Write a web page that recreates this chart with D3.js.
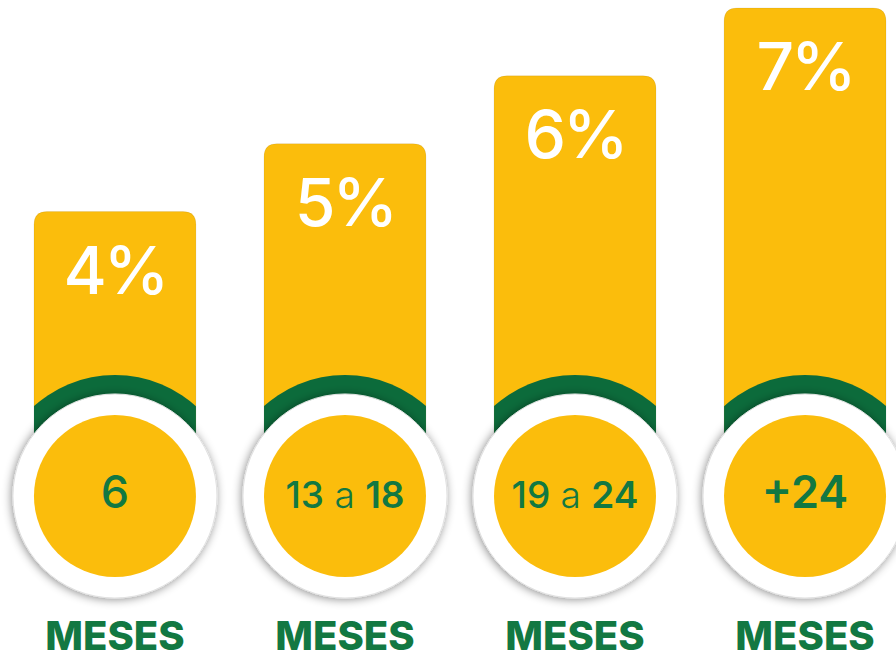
<!DOCTYPE html>
<html lang="es">
	<head>
		<meta charset="utf-8">
		<title>Porcentaje por meses</title>
		<script src="https://d3js.org/d3.v7.min.js"></script>
		<style type="text/css">
			body { margin: 0; background: #fff; }
			svg { display: block; }
		</style>
	</head>
	<body>
<div id="chart"></div>
		<script type="text/javascript">
// data
var categories = ["6", "13 a 18", "19 a 24", "+24"];
var values = [4, 5, 6, 7];
var unitLabels = ["MESES", "MESES", "MESES", "MESES"];
// circle label split into pieces (text, weight)
var labelParts = [
  [["6", 500]],
  [["13", 500], [" a ", 300], ["18", 600]],
  [["19", 500], [" a ", 300], ["24", 600]],
  [["+24", 600]]
];

//Width and height
var w = 896;
var h = 660;
var baseY = 496;   // centre line of the circles

var yellow = "#FBBD0C";
var green = "#0C6B3B";
var textGreen = "#127842";

//Create scale functions
var xScale = d3.scaleBand()
  .domain(categories)
  .range([34, 886])
  .paddingInner(0.296)
  .paddingOuter(0);

var yScale = d3.scaleLinear()
  .domain([0, 7])
  .range([483, 8]);

//Create SVG element
var svg = d3.select("div#chart")
  .append("svg")
  .attr("width", w)
  .attr("height", h);

var defs = svg.append("defs");

var shadow = defs.append("filter")
  .attr("id", "shadow")
  .attr("x", "-30%").attr("y", "-30%")
  .attr("width", "160%").attr("height", "160%");
shadow.append("feDropShadow")
  .attr("dx", -1).attr("dy", 1)
  .attr("stdDeviation", 5)
  .attr("flood-color", "#000")
  .attr("flood-opacity", 0.45);

var bw = xScale.bandwidth();
var rad = 13;

// bar path with rounded top corners
function barPath(d, i) {
  var x0 = xScale(categories[i]), x1 = x0 + bw, y0 = yScale(d);
  return "M" + x0 + "," + baseY +
    "V" + (y0 + rad) +
    "Q" + x0 + "," + y0 + " " + (x0 + rad) + "," + y0 +
    "H" + (x1 - rad) +
    "Q" + x1 + "," + y0 + " " + x1 + "," + (y0 + rad) +
    "V" + baseY + "Z";
}

defs.selectAll("clipPath")
  .data(values)
  .enter()
  .append("clipPath")
  .attr("id", (d, i) => "clip" + i)
  .append("path")
  .attr("d", barPath);

var groups = svg.selectAll("g.bar")
  .data(values)
  .enter()
  .append("g")
  .attr("class", "bar");

groups.append("path")
  .attr("d", barPath)
  .attr("fill", yellow)
  .attr("stroke", "rgba(0,0,0,0.07)")
  .attr("stroke-width", 1);

// percent labels
groups.append("text")
  .attr("x", (d, i) => xScale(categories[i]) + bw / 2)
  .attr("y", d => yScale(d) + 82)
  .attr("text-anchor", "middle")
  .attr("font-family", "Inter, sans-serif")
  .attr("font-size", 66)
  .attr("font-weight", 500)
  .attr("letter-spacing", -3)
  .attr("fill", "#fff")
  .text(d => d + "%");

// green ring, clipped to the bar
groups.append("circle")
  .attr("clip-path", (d, i) => "url(#clip" + i + ")")
  .attr("cx", (d, i) => xScale(categories[i]) + bw / 2)
  .attr("cy", baseY)
  .attr("r", 121)
  .attr("fill", green);

// white outer circle
groups.append("circle")
  .attr("cx", (d, i) => xScale(categories[i]) + bw / 2)
  .attr("cy", baseY)
  .attr("r", 102)
  .attr("fill", "#fff")
  .attr("stroke", "#e2e2e2")
  .attr("stroke-width", 1)
  .attr("filter", "url(#shadow)");

// inner yellow circle
groups.append("circle")
  .attr("cx", (d, i) => xScale(categories[i]) + bw / 2)
  .attr("cy", baseY)
  .attr("r", 81)
  .attr("fill", yellow);

// circle labels
groups.append("text")
  .attr("x", (d, i) => xScale(categories[i]) + bw / 2)
  .attr("y", baseY + 12)
  .attr("text-anchor", "middle")
  .attr("font-family", "Inter, sans-serif")
  .attr("font-size", (d, i) => categories[i].length > 3 ? 37 : 45)
  .attr("fill", textGreen)
  .selectAll("tspan")
  .data((d, i) => labelParts[i])
  .enter()
  .append("tspan")
  .attr("font-weight", p => p[1])
  .text(p => p[0]);

// MESES
groups.append("text")
  .attr("x", (d, i) => xScale(categories[i]) + bw / 2)
  .attr("y", 650)
  .attr("text-anchor", "middle")
  .attr("font-family", "Inter, sans-serif")
  .attr("font-size", 40)
  .attr("font-weight", 800)
  .attr("fill", textGreen)
  .text((d, i) => unitLabels[i]);
		</script>
	</body>
</html>
